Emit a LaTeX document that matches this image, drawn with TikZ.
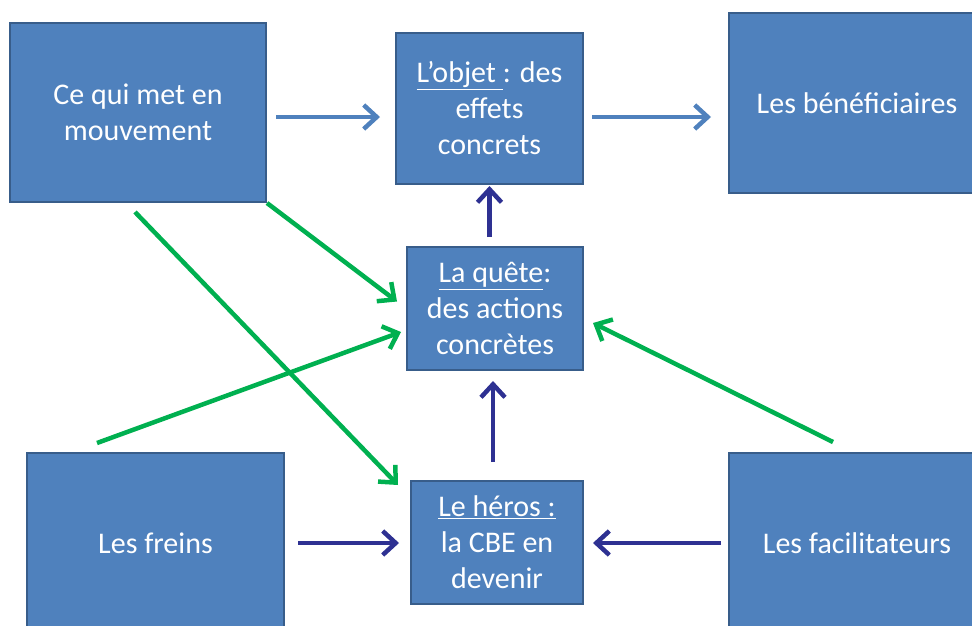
\documentclass[tikz,border=0pt]{standalone}
\usepackage{fontspec}
\setmainfont{Carlito}
\usepackage{tikz}
\usetikzlibrary{arrows.meta, positioning, calc}
\definecolor{boxfill}{RGB}{79,129,189}
\definecolor{boxedge}{RGB}{56,93,138}
\definecolor{mygreen}{RGB}{0,176,80}
\definecolor{mynavy}{RGB}{46,49,146}
\tikzset{
  box/.style={rectangle, draw=boxedge, fill=boxfill, line width=2pt,
    text=white, align=center, inner sep=0pt,
    font=\fontsize{30}{36}\selectfont},
  bluearrow/.style={-{Straight Barb[length=13pt,width=24pt]}, line width=4.5pt, color=boxfill},
  greenarrow/.style={-{Straight Barb[length=13pt,width=24pt]}, line width=4.5pt, color=mygreen},
  navyarrow/.style={-{Straight Barb[length=13pt,width=24pt]}, line width=4.5pt, color=mynavy}
}

\begin{document}
\begin{tikzpicture}[x=1pt, y=-1pt]
  \useasboundingbox (0,0) rectangle (972,625);
  \clip (0,0) rectangle (972,625);
  % top row
  \node[box, minimum width=256pt, minimum height=179pt] (moteur) at (138,112.5) {Ce qui met en\\mouvement};
  \node[box, minimum width=187pt, minimum height=151pt] (objet) at (489.5,108.5) {\underline{L’objet\ }: des\\effets\\concrets};
  \node[box, minimum width=256pt, minimum height=180pt] (benef) at (857,103) {Les bénéficiaires};
  % middle
  \node[box, minimum width=176pt, minimum height=123pt] (quete) at (495,308.5) {\underline{La quête}:\\des actions\\concrètes};
  % bottom row
  \node[box, minimum width=257pt, minimum height=180pt] (freins) at (155.5,543) {Les freins};
  \node[box, minimum width=172pt, minimum height=123pt] (heros) at (497,542.5) {\underline{Le héros :}\\la CBE en\\devenir};
  \node[box, minimum width=256pt, minimum height=180pt] (facil) at (857,543) {Les facilitateurs};
  % blue arrows
  \draw[bluearrow, shorten <=9pt, shorten >=15pt] ([yshift=-4.5pt]moteur.east) -- ([yshift=-4.5pt]moteur.east -| objet.west);
  \draw[bluearrow, shorten <=8pt, shorten >=17pt] ([yshift=-8.5pt]objet.east) -- ([yshift=-8.5pt]objet.east -| benef.west);
  % navy arrows
  \draw[navyarrow, shorten <=9pt, shorten >=1pt] (quete.north -| objet.south) -- (objet.south);
  \draw[navyarrow, shorten <=18pt, shorten >=10pt] ([xshift=-4pt]heros.north) -- ([xshift=-4pt]heros.north |- quete.south);
  \draw[navyarrow, shorten <=13pt, shorten >=11pt] (freins.east) -- (freins.east -| heros.west);
  \draw[navyarrow, shorten <=7pt, shorten >=9pt] (facil.west) -- (facil.west -| heros.east);
  % green arrows
  \draw[greenarrow] (moteur.south east) -- ($(quete.west)+(-9,-7)$);
  \draw[greenarrow] ($(moteur.south)+(-3,9)$) -- ($(heros.north west)+(-12,5)$);
  \draw[greenarrow] ($(freins.north west)+(71,-9)$) -- ($(quete.west)+(-5,23.5)$);
  \draw[greenarrow] ($(facil.north west)+(105,-10)$) -- ($(quete.east)+(9,14.5)$);
\end{tikzpicture}
\end{document}
